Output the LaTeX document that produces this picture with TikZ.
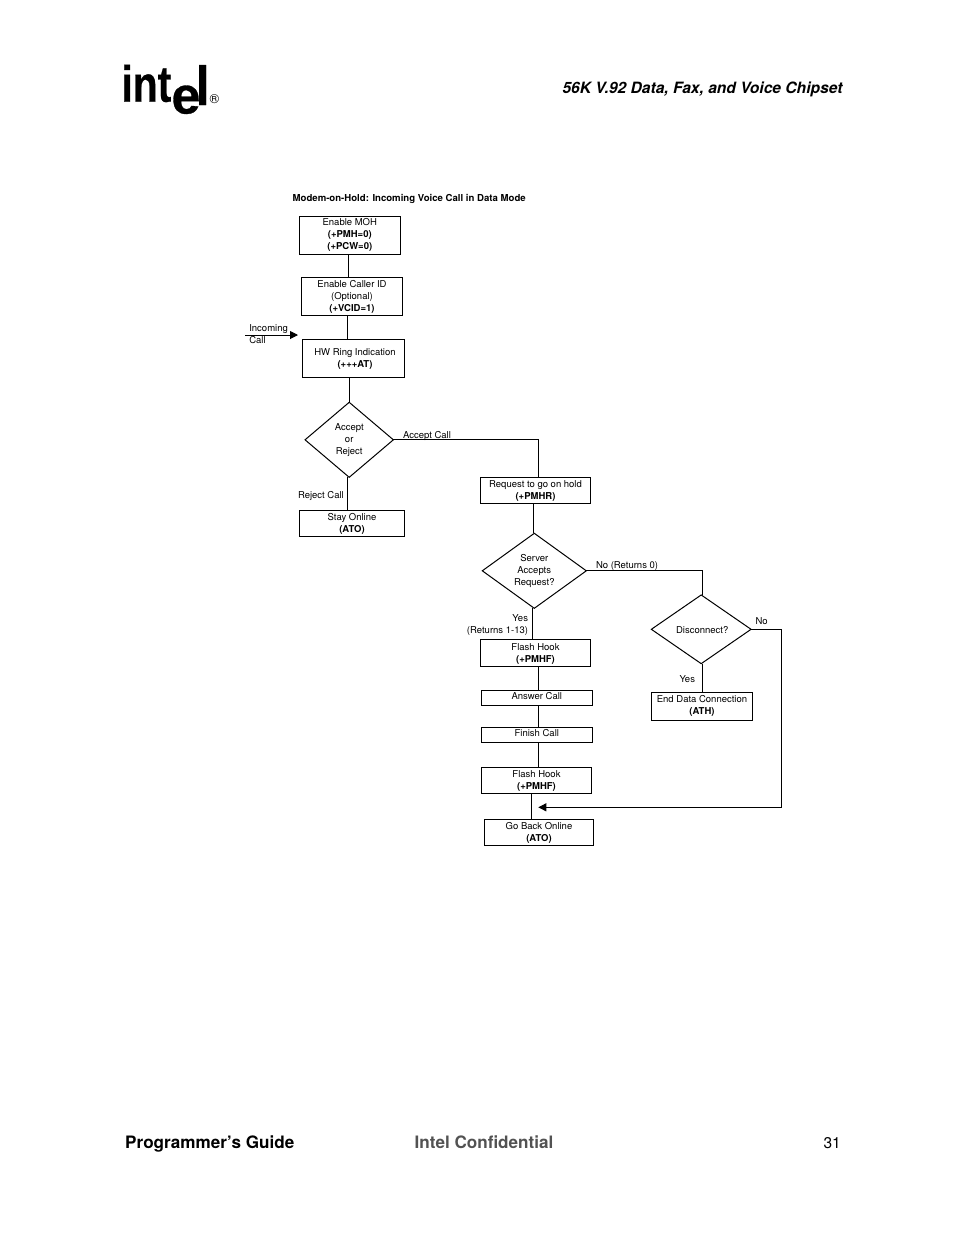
\documentclass[tikz,border=0pt]{standalone}
\usepackage{fontspec}
\setmainfont{TeX Gyre Heros}
\usetikzlibrary{shapes.geometric,arrows.meta}
\newfontfamily\logofont[FakeBold=0.6]{Liberation Sans Bold}
\newcommand\dropln{\rule{0pt}{9.2pt}}
\newcommand\riseln{\rule[-3.6pt]{0pt}{0pt}}
\tikzset{
  flowbox/.style={draw=black,line width=1pt,rectangle,inner sep=0pt,outer sep=0pt,align=center,font=\fontsize{9.5}{12}\selectfont},
  flowdiamond/.style={draw=black,line width=1pt,diamond,inner sep=0pt,outer sep=0pt,align=center,font=\fontsize{9.5}{12}\selectfont},
  link/.style={draw=black,line width=1pt},
  arrowlink/.style={link,-{Triangle[length=8pt,width=8pt]}},
  lbl/.style={inner sep=0pt,outer sep=0pt,font=\fontsize{9.5}{12}\selectfont},
  logotext/.style={inner sep=0pt,outer sep=0pt,anchor=base west,text=black,transform shape}
}
\begin{document}
\begin{tikzpicture}[x=1pt,y=-1pt]
\useasboundingbox (0,0) rectangle (954,1235);
\fill[white] (0,0) rectangle (954,1235);
% logo
\begin{scope}[xscale=0.8]
\node[logotext,font=\logofont\fontsize{51}{51}\selectfont] (lgint) at (151.8,101.7) {int};
\end{scope}
\begin{scope}[xscale=0.9]
\node[logotext,font=\logofont\fontsize{55}{55}\selectfont] (lgl) at (217.5,105) {l};
\end{scope}
\node[logotext,font=\logofont\fontsize{52}{52}\selectfont] (lge) at (171.5,113.5) {e};
\node[inner sep=0pt,font=\fontsize{13}{13}\selectfont] (lgr) at (214.5,99) {®};
% header and footer
\node[inner sep=0pt,anchor=base east,font=\bfseries\itshape\fontsize{15.6}{18}\selectfont] (head) at (842.7,93.5) {56K V.92 Data, Fax, and Voice Chipset};
\node[inner sep=0pt,anchor=base west,font=\bfseries\fontsize{17.1}{20}\selectfont] (foot1) at (125,1148.5) {Programmer’s Guide};
\node[inner sep=0pt,anchor=base west,text=black!68,font=\bfseries\fontsize{17.1}{20}\selectfont] (foot2) at (414.5,1148.5) {Intel Confidential};
\node[inner sep=0pt,anchor=base east,font=\fontsize{15.5}{20}\selectfont] (foot3) at (841,1148) {31};
\node[inner sep=0pt,anchor=base west,font=\bfseries\fontsize{9.6}{12}\selectfont] (title) at (292.5,201) {Modem-on-Hold: Incoming Voice Call in Data Mode};
% boxes
\node[flowbox,minimum width=101pt,minimum height=38pt] (moh) at (349.8,235.3) {Enable MOH\\\textbf{(+PMH=0)}\\\textbf{(+PCW=0)}};
\node[flowbox,minimum width=101.4pt,minimum height=38pt] (cid) at (352,296.3) {\dropln Enable Caller ID\\(Optional)\\\textbf{(+VCID=1)}};
\node[flowbox,minimum width=101.6pt,minimum height=38pt] (ring) at (353.5,358.3) {\dropln\hspace*{3pt}HW Ring Indication\\\hspace*{3pt}\textbf{(+++AT)}};
\node[flowdiamond,aspect=1.177,minimum width=88.3pt,minimum height=75pt] (accept) at (349.2,439.8) {Accept\\or\\Reject};
\node[flowbox,minimum width=105.4pt,minimum height=26pt] (stay) at (352,523.3) {\dropln Stay Online\\\textbf{(ATO)}};
\node[flowbox,minimum width=110.4pt,minimum height=26pt] (req) at (535.5,490.3) {\dropln Request to go on hold\\\textbf{(+PMHR)}};
\node[flowdiamond,aspect=1.387,minimum width=104pt,minimum height=75pt] (server) at (534.3,570.8) {Server\\Accepts\\Request?};
\node[flowdiamond,aspect=1.451,minimum width=99.7pt,minimum height=68.7pt] (disc) at (701.2,629.3) {\dropln\hspace*{2pt}Disconnect?};
\node[flowbox,minimum width=101.4pt,minimum height=28pt] (endc) at (702,706.3) {End Data Connection\\\textbf{(ATH)}};
\node[flowbox,minimum width=110.4pt,minimum height=26.7pt] (flasha) at (535.5,653.3) {\dropln Flash Hook\\\textbf{(+PMHF)}};
\node[flowbox,minimum width=111pt,minimum height=15.3pt] (answer) at (536.8,697.7) {Answer Call\riseln};
\node[flowbox,minimum width=111pt,minimum height=15pt] (finish) at (536.8,734.8) {Finish Call\riseln};
\node[flowbox,minimum width=110.4pt,minimum height=26pt] (flashb) at (536.5,780.3) {\dropln Flash Hook\\\textbf{(+PMHF)}};
\node[flowbox,minimum width=109.4pt,minimum height=26pt] (goback) at (539,832.3) {\dropln Go Back Online\\\textbf{(ATO)}};
% column guides for the connectors
\coordinate (xa) at (348.3,0);
\coordinate (xb) at (347.3,0);
\coordinate (xc) at (349.5,0);
\coordinate (xd) at (347.7,0);
\coordinate (xe) at (538.4,0);
\coordinate (xf) at (533.3,0);
\coordinate (xg) at (532.7,0);
\coordinate (xh) at (538.7,0);
\coordinate (xi) at (531.3,0);
\coordinate (xj) at (702.3,0);
\coordinate (xk) at (781.5,0);
\coordinate (incomingstart) at (245,335);
\coordinate (incomingend) at (298,335);
\coordinate (mergeend) at (538.3,807.3);
% connectors
\draw[link] (moh.south -| xa) -- (cid.north -| xa);
\draw[link] (cid.south -| xb) -- (ring.north -| xb);
\draw[link] (ring.south -| xc) -- (accept.north -| xc);
\draw[link] (accept.south -| xd) -- (stay.north -| xd);
\draw[link] (accept.east) -- (accept.east -| xe) -- (req.north -| xe);
\draw[link] (req.south -| xf) -- (server.north -| xf);
\draw[link] (server.east) -- (server.east -| xj) -- (disc.north -| xj);
\draw[link] (server.south -| xg) -- (flasha.north -| xg);
\draw[link] (disc.south -| xj) -- (endc.north -| xj);
\draw[link] (flasha.south -| xh) -- (answer.north -| xh);
\draw[link] (answer.south -| xh) -- (finish.north -| xh);
\draw[link] (finish.south -| xh) -- (flashb.north -| xh);
\draw[link] (flashb.south -| xi) -- (goback.north -| xi);
\draw[arrowlink] (disc.east) -- (disc.east -| xk) -- (mergeend -| xk) -- (mergeend);
\draw[arrowlink] (incomingstart) -- (incomingend);
% labels
\node[lbl,anchor=base west,align=left] (lincoming) at (249.3,343) {Incoming\\Call};
\node[lbl,anchor=base west] (laccept) at (403,438.5) {Accept Call};
\node[lbl,anchor=base west] (lreject) at (298,498.5) {Reject Call};
\node[lbl,anchor=base west] (lnozero) at (596,568.5) {No (Returns 0)};
\node[lbl,anchor=base east,align=right] (lyesa) at (528,633.5) {Yes\\(Returns 1-13)};
\node[lbl,anchor=base west] (lnob) at (755.5,624.5) {No};
\node[lbl,anchor=base west] (lyesb) at (679.5,682.5) {Yes};
\end{tikzpicture}
\end{document}
